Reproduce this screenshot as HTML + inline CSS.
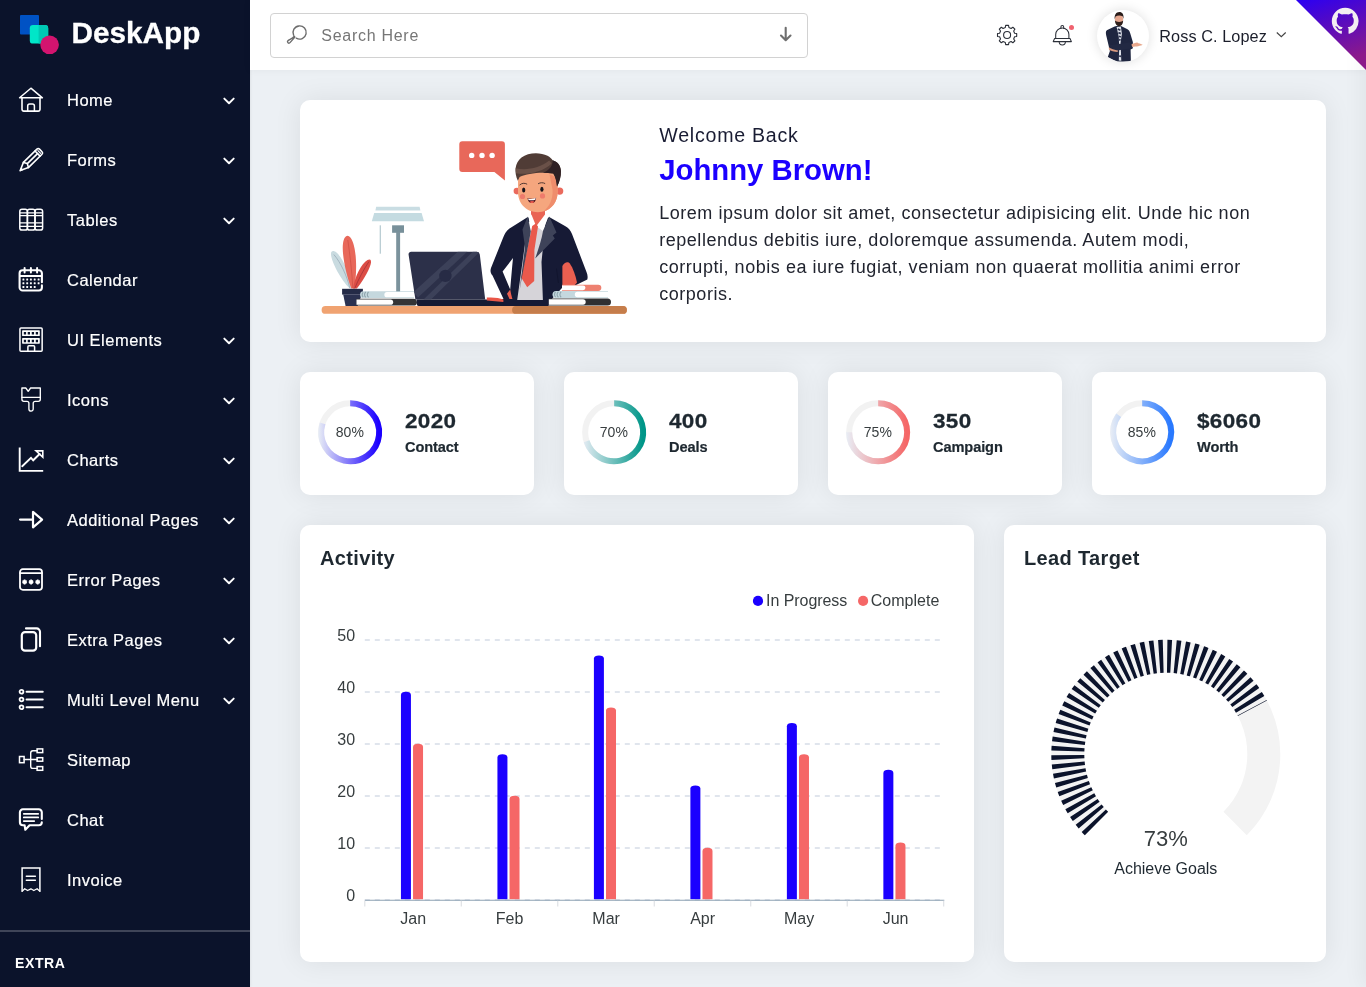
<!DOCTYPE html>
<html lang="en">
<head>
<meta charset="utf-8">
<title>DeskApp - Dashboard</title>
<style>
*{box-sizing:border-box;margin:0;padding:0}
html,body{width:1366px;height:987px;overflow:hidden}
body{background:#ecf0f4;font-family:"Liberation Sans",sans-serif;position:relative}
.t{position:absolute;white-space:nowrap}
.abs{position:absolute}
.sidebar{position:absolute;left:0;top:0;width:250px;height:987px;background:#0b132b;box-shadow:0 0 3px rgba(0,0,0,.10)}
.header{position:absolute;left:250px;top:0;width:1116px;height:70px;background:#fff;box-shadow:0 0 8px rgba(0,0,0,.05)}
.card{position:absolute;background:#fff;border-radius:10px;box-shadow:0 0 28px rgba(0,0,0,.08)}
svg{position:absolute;overflow:visible}

.rshade{position:absolute;left:1368px;top:0;width:20px;height:987px;box-shadow:0 0 26px rgba(0,0,0,.085)}
.sx{transform-origin:0 50%}

</style>
</head>
<body>
<div class="sidebar"></div>
<svg style="left:0;top:0" width="70" height="70" viewBox="0 0 70 70">
<rect x="20" y="15" width="19" height="19.5" rx="1" fill="#0052c4"/>
<rect x="29.8" y="25" width="18.4" height="18.6" rx="3.2" fill="#00e6c8"/>
<path d="M38.6 25h6.4a3.2 3.2 0 0 1 3.2 3.2v12.2a3.2 3.2 0 0 1 -3.2 3.2h-6.4z" fill="#00c9b4"/>
<circle cx="49.6" cy="44.8" r="9.3" fill="#d3146f"/>
</svg>
<div class="t" style="left:71.6px;top:18.11px;font-size:29.7px;line-height:29.7px;font-weight:700;color:#fff;letter-spacing:0px;-webkit-text-stroke:0.3px #fff;">DeskApp</div>
<div class="t" style="left:67px;top:92.11px;font-size:16.5px;line-height:16.5px;font-weight:400;color:#fff;letter-spacing:0.5px;-webkit-text-stroke:0.2px #fff;">Home</div>
<svg style="left:19px;top:87px" width="24" height="26" viewBox="0 0 24 26" fill="none" stroke="#fff" stroke-width="1.7" stroke-linecap="round" stroke-linejoin="round"><path d="M0.6 10.8L11.9 1.2L23.4 10.8Z" stroke-width="1.5"/><path d="M3 10.8V22.3a1.8 1.8 0 0 0 1.8 1.8h14.4a1.8 1.8 0 0 0 1.8-1.8V10.8" stroke-width="1.6"/><path d="M8.7 24.1v-5.2a2 2 0 0 1 2-2h2.7a2 2 0 0 1 2 2v5.2" stroke-width="1.5"/></svg>
<svg style="left:223px;top:97.1px" width="12" height="8" viewBox="0 0 12 8" fill="none" stroke="#fff" stroke-width="1.9" stroke-linecap="round" stroke-linejoin="round"><path d="M1.3 1.6L6 6.2L10.7 1.6"/></svg>
<div class="t" style="left:67px;top:152.11px;font-size:16.5px;line-height:16.5px;font-weight:400;color:#fff;letter-spacing:0.5px;-webkit-text-stroke:0.2px #fff;">Forms</div>
<svg style="left:19px;top:147px" width="24" height="26" viewBox="0 0 24 26" fill="none" stroke="#fff" stroke-width="1.7" stroke-linecap="round" stroke-linejoin="round"><g transform="translate(1.2 23.6) rotate(-44.5)" stroke-width="1.6"><path d="M0 0L8 -3.6H27a1.8 1.8 0 0 1 1.8 1.8V1.8a1.8 1.8 0 0 1 -1.8 1.8H8Z"/><path d="M8 -3.6L10 0L8 3.6"/><path d="M10 0H24.3"/><path d="M24.3 -3.6V3.6"/><path d="M26.6 -1.8V1.8" stroke-width="1.2"/><path d="M0 0L2.6 -1.2V1.2Z" fill="#fff" stroke-width="0.6"/></g></svg>
<svg style="left:223px;top:157.1px" width="12" height="8" viewBox="0 0 12 8" fill="none" stroke="#fff" stroke-width="1.9" stroke-linecap="round" stroke-linejoin="round"><path d="M1.3 1.6L6 6.2L10.7 1.6"/></svg>
<div class="t" style="left:67px;top:212.11px;font-size:16.5px;line-height:16.5px;font-weight:400;color:#fff;letter-spacing:0.5px;-webkit-text-stroke:0.2px #fff;">Tables</div>
<svg style="left:19px;top:207px" width="24" height="26" viewBox="0 0 24 26" fill="none" stroke="#fff" stroke-width="1.7" stroke-linecap="round" stroke-linejoin="round"><g stroke-width="1.5"><rect x="0.8" y="2.2" width="7.6" height="20.9" rx="2.2"/><rect x="8.4" y="2.2" width="7.6" height="20.9" rx="2.2"/><rect x="16" y="2.2" width="7.6" height="20.9" rx="2.2"/><path d="M0.8 5.9H23.6M0.8 8.7H23.6M0.8 15.8H23.6M0.8 19.4H23.6" stroke-width="1.3" stroke-linecap="butt"/></g></svg>
<svg style="left:223px;top:217.1px" width="12" height="8" viewBox="0 0 12 8" fill="none" stroke="#fff" stroke-width="1.9" stroke-linecap="round" stroke-linejoin="round"><path d="M1.3 1.6L6 6.2L10.7 1.6"/></svg>
<div class="t" style="left:67px;top:272.11px;font-size:16.5px;line-height:16.5px;font-weight:400;color:#fff;letter-spacing:0.5px;-webkit-text-stroke:0.2px #fff;">Calendar</div>
<svg style="left:19px;top:267px" width="24" height="26" viewBox="0 0 24 26" fill="none" stroke="#fff" stroke-width="1.7" stroke-linecap="round" stroke-linejoin="round"><path d="M22.9 15.2V6.3a3 3 0 0 0 -3-3H3.6a3 3 0 0 0 -3 3V20.5a3 3 0 0 0 3 3H19.9a3 3 0 0 0 3-3V18.4" stroke-width="2.1"/><path d="M0.6 9H22.9" stroke-width="2" stroke-linecap="butt"/><path d="M5.6 0.9V5.6M11.9 0.9V5.6M18.1 0.9V5.6" stroke-width="2"/><rect x="3.45" y="11.55" width="1.9" height="1.9" rx="0.5" fill="#fff" stroke="none"/><rect x="7.25" y="11.55" width="1.9" height="1.9" rx="0.5" fill="#fff" stroke="none"/><rect x="10.95" y="11.55" width="1.9" height="1.9" rx="0.5" fill="#fff" stroke="none"/><rect x="14.75" y="11.55" width="1.9" height="1.9" rx="0.5" fill="#fff" stroke="none"/><rect x="18.65" y="11.55" width="1.9" height="1.9" rx="0.5" fill="#fff" stroke="none"/><rect x="3.45" y="15.35" width="1.9" height="1.9" rx="0.5" fill="#fff" stroke="none"/><rect x="7.25" y="15.35" width="1.9" height="1.9" rx="0.5" fill="#fff" stroke="none"/><rect x="10.95" y="15.35" width="1.9" height="1.9" rx="0.5" fill="#fff" stroke="none"/><rect x="14.75" y="15.35" width="1.9" height="1.9" rx="0.5" fill="#fff" stroke="none"/><rect x="18.65" y="15.35" width="1.9" height="1.9" rx="0.5" fill="#fff" stroke="none"/><rect x="3.45" y="19.05" width="1.9" height="1.9" rx="0.5" fill="#fff" stroke="none"/><rect x="7.25" y="19.05" width="1.9" height="1.9" rx="0.5" fill="#fff" stroke="none"/><rect x="10.95" y="19.05" width="1.9" height="1.9" rx="0.5" fill="#fff" stroke="none"/><rect x="14.75" y="19.05" width="1.9" height="1.9" rx="0.5" fill="#fff" stroke="none"/></svg>
<div class="t" style="left:67px;top:332.11px;font-size:16.5px;line-height:16.5px;font-weight:400;color:#fff;letter-spacing:0.5px;-webkit-text-stroke:0.2px #fff;">UI Elements</div>
<svg style="left:19px;top:327px" width="24" height="26" viewBox="0 0 24 26" fill="none" stroke="#fff" stroke-width="1.7" stroke-linecap="round" stroke-linejoin="round"><rect x="0.95" y="0.95" width="22.2" height="23.2" rx="1" stroke-width="1.5"/><path fill="#fff" stroke="none" fill-rule="evenodd" d="M3.7 3.3h16.5a.6 .6 0 0 1 .6 .6v4.5a.6 .6 0 0 1 -.6 .6H3.7a.6 .6 0 0 1 -.6-.6v-4.5a.6 .6 0 0 1 .6-.6zM4.80 4.95h2.3v2.5h-2.3zM8.70 4.95h2.3v2.5h-2.3zM12.75 4.95h2.3v2.5h-2.3zM16.75 4.95h2.3v2.5h-2.3z"/><path fill="#fff" stroke="none" fill-rule="evenodd" d="M3.7 11.0h16.5a.6 .6 0 0 1 .6 .6v4.5a.6 .6 0 0 1 -.6 .6H3.7a.6 .6 0 0 1 -.6-.6v-4.5a.6 .6 0 0 1 .6-.6zM4.80 12.65h2.3v2.5h-2.3zM8.70 12.65h2.3v2.5h-2.3zM12.75 12.65h2.3v2.5h-2.3zM16.75 12.65h2.3v2.5h-2.3z"/><path d="M8.9 24v-4.2a1 1 0 0 1 1-1h4.7a1 1 0 0 1 1 1V24" stroke-width="1.5"/></svg>
<svg style="left:223px;top:337.1px" width="12" height="8" viewBox="0 0 12 8" fill="none" stroke="#fff" stroke-width="1.9" stroke-linecap="round" stroke-linejoin="round"><path d="M1.3 1.6L6 6.2L10.7 1.6"/></svg>
<div class="t" style="left:67px;top:392.11px;font-size:16.5px;line-height:16.5px;font-weight:400;color:#fff;letter-spacing:0.5px;-webkit-text-stroke:0.2px #fff;">Icons</div>
<svg style="left:19px;top:387px" width="24" height="26" viewBox="0 0 24 26" fill="none" stroke="#fff" stroke-width="1.7" stroke-linecap="round" stroke-linejoin="round"><path d="M2.9 1H6.8L9.2 4.3L11.6 1H21.3V12.3a2 2 0 0 1 -2 2H16.2a2 2 0 0 0 -2 2V21.9a2.15 2.15 0 0 1 -4.3 0V16.3a2 2 0 0 0 -2-2H4.9a2 2 0 0 1 -2-2Z" stroke-width="1.35"/><path d="M2.9 10.4H21.3" stroke-width="1.25"/></svg>
<svg style="left:223px;top:397.1px" width="12" height="8" viewBox="0 0 12 8" fill="none" stroke="#fff" stroke-width="1.9" stroke-linecap="round" stroke-linejoin="round"><path d="M1.3 1.6L6 6.2L10.7 1.6"/></svg>
<div class="t" style="left:67px;top:452.11px;font-size:16.5px;line-height:16.5px;font-weight:400;color:#fff;letter-spacing:0.5px;-webkit-text-stroke:0.2px #fff;">Charts</div>
<svg style="left:19px;top:447px" width="24" height="26" viewBox="0 0 24 26" fill="none" stroke="#fff" stroke-width="1.7" stroke-linecap="round" stroke-linejoin="round"><path d="M0.7 0.4V23.9H24.2" stroke-width="1.9" stroke-linecap="butt" stroke-linejoin="miter"/><path d="M3.2 19.2L12 10.8L14.2 13.3L20.6 7" stroke-width="1.9" stroke-linejoin="miter"/><path d="M17 3.9H23.8V10.2Z" stroke-width="1.6" stroke-linejoin="miter"/></svg>
<svg style="left:223px;top:457.1px" width="12" height="8" viewBox="0 0 12 8" fill="none" stroke="#fff" stroke-width="1.9" stroke-linecap="round" stroke-linejoin="round"><path d="M1.3 1.6L6 6.2L10.7 1.6"/></svg>
<div class="t" style="left:67px;top:512.11px;font-size:16.5px;line-height:16.5px;font-weight:400;color:#fff;letter-spacing:0.5px;-webkit-text-stroke:0.2px #fff;">Additional Pages</div>
<svg style="left:19px;top:507px" width="24" height="26" viewBox="0 0 24 26" fill="none" stroke="#fff" stroke-width="1.7" stroke-linecap="round" stroke-linejoin="round"><path d="M1.1 12.6H13.9" stroke-width="2.3"/><path d="M14 4.9V20.3L23.1 12.6Z" stroke-width="2.2"/></svg>
<svg style="left:223px;top:517.1px" width="12" height="8" viewBox="0 0 12 8" fill="none" stroke="#fff" stroke-width="1.9" stroke-linecap="round" stroke-linejoin="round"><path d="M1.3 1.6L6 6.2L10.7 1.6"/></svg>
<div class="t" style="left:67px;top:572.11px;font-size:16.5px;line-height:16.5px;font-weight:400;color:#fff;letter-spacing:0.5px;-webkit-text-stroke:0.2px #fff;">Error Pages</div>
<svg style="left:19px;top:567px" width="24" height="26" viewBox="0 0 24 26" fill="none" stroke="#fff" stroke-width="1.7" stroke-linecap="round" stroke-linejoin="round"><rect x="1" y="2.2" width="22" height="20.6" rx="2.8" stroke-width="1.8"/><path d="M1 6.1H23" stroke-width="1.7"/><path d="M5.6 12.4V17.4M3.50 13.7L7.70 16.1M7.70 13.7L3.50 16.1" stroke-width="1.7" stroke-linecap="butt"/><path d="M12.1 12.4V17.4M10.00 13.7L14.20 16.1M14.20 13.7L10.00 16.1" stroke-width="1.7" stroke-linecap="butt"/><path d="M18.7 12.4V17.4M16.60 13.7L20.80 16.1M20.80 13.7L16.60 16.1" stroke-width="1.7" stroke-linecap="butt"/></svg>
<svg style="left:223px;top:577.1px" width="12" height="8" viewBox="0 0 12 8" fill="none" stroke="#fff" stroke-width="1.9" stroke-linecap="round" stroke-linejoin="round"><path d="M1.3 1.6L6 6.2L10.7 1.6"/></svg>
<div class="t" style="left:67px;top:632.11px;font-size:16.5px;line-height:16.5px;font-weight:400;color:#fff;letter-spacing:0.5px;-webkit-text-stroke:0.2px #fff;">Extra Pages</div>
<svg style="left:19px;top:627px" width="24" height="26" viewBox="0 0 24 26" fill="none" stroke="#fff" stroke-width="1.7" stroke-linecap="round" stroke-linejoin="round"><rect x="2.8" y="5.1" width="14.4" height="18.6" rx="3.2" stroke-width="2.2"/><path d="M7 1.4H17.6a3.4 3.4 0 0 1 3.4 3.4V19.2" stroke-width="2.1"/></svg>
<svg style="left:223px;top:637.1px" width="12" height="8" viewBox="0 0 12 8" fill="none" stroke="#fff" stroke-width="1.9" stroke-linecap="round" stroke-linejoin="round"><path d="M1.3 1.6L6 6.2L10.7 1.6"/></svg>
<div class="t" style="left:67px;top:692.11px;font-size:16.5px;line-height:16.5px;font-weight:400;color:#fff;letter-spacing:0.5px;-webkit-text-stroke:0.2px #fff;">Multi Level Menu</div>
<svg style="left:19px;top:687px" width="24" height="26" viewBox="0 0 24 26" fill="none" stroke="#fff" stroke-width="1.7" stroke-linecap="round" stroke-linejoin="round"><circle cx="2.5" cy="4.8" r="1.9" stroke-width="1.8"/><path d="M7.6 4.8H23.7" stroke-width="2.1"/><circle cx="2.5" cy="12.5" r="1.9" stroke-width="1.8"/><path d="M7.6 12.5H23.7" stroke-width="2.1"/><circle cx="2.5" cy="20.2" r="1.9" stroke-width="1.8"/><path d="M7.6 20.2H23.7" stroke-width="2.1"/></svg>
<svg style="left:223px;top:697.1px" width="12" height="8" viewBox="0 0 12 8" fill="none" stroke="#fff" stroke-width="1.9" stroke-linecap="round" stroke-linejoin="round"><path d="M1.3 1.6L6 6.2L10.7 1.6"/></svg>
<div class="t" style="left:67px;top:752.11px;font-size:16.5px;line-height:16.5px;font-weight:400;color:#fff;letter-spacing:0.5px;-webkit-text-stroke:0.2px #fff;">Sitemap</div>
<svg style="left:19px;top:747px" width="24" height="26" viewBox="0 0 24 26" fill="none" stroke="#fff" stroke-width="1.7" stroke-linecap="round" stroke-linejoin="round"><g stroke-width="1.5" stroke-linejoin="miter"><rect x="0.5" y="9.5" width="4.6" height="6.2"/><rect x="18.1" y="1.9" width="5.6" height="3.7"/><rect x="18.1" y="10.7" width="5.6" height="3.5"/><rect x="18.1" y="19.6" width="5.6" height="3.7"/><path d="M5.1 12.5H18.1M18.1 3.7H13.9a2.2 2.2 0 0 0 -2.2 2.2V19.2a2.2 2.2 0 0 0 2.2 2.2H18.1" stroke-width="1.4"/></g></svg>
<div class="t" style="left:67px;top:812.11px;font-size:16.5px;line-height:16.5px;font-weight:400;color:#fff;letter-spacing:0.5px;-webkit-text-stroke:0.2px #fff;">Chat</div>
<svg style="left:19px;top:807px" width="24" height="26" viewBox="0 0 24 26" fill="none" stroke="#fff" stroke-width="1.7" stroke-linecap="round" stroke-linejoin="round"><path d="M22.8 11.9V5.3a3 3 0 0 0 -3-3H3.9a3 3 0 0 0 -3 3V15.2a3 3 0 0 0 3 3H5.6L6.3 22.8L10.6 18.2H19.8a3 3 0 0 0 3-3V15.4" stroke-width="2.1"/><path d="M4.8 6.8H19.2M4.8 10.4H19.2M4.8 14.1H15.2" stroke-width="1.8"/></svg>
<div class="t" style="left:67px;top:872.11px;font-size:16.5px;line-height:16.5px;font-weight:400;color:#fff;letter-spacing:0.5px;-webkit-text-stroke:0.2px #fff;">Invoice</div>
<svg style="left:19px;top:867px" width="24" height="26" viewBox="0 0 24 26" fill="none" stroke="#fff" stroke-width="1.7" stroke-linecap="round" stroke-linejoin="round"><path d="M3.1 24.4V1.1H20.9V24.4" stroke-width="1.5" stroke-linejoin="miter" stroke-linecap="butt"/><path d="M3.1 24.4L5.7 21.7L8.6 23.5L11.9 21.8L14.8 23.5L18.1 21.7L20.9 24.4" stroke-width="1.3"/><path d="M7.3 9.2H16.4M7.3 13.3H16.4" stroke-width="1.4"/></svg>
<div class="abs" style="left:0;top:930px;width:250px;height:2px;background:rgba(255,255,255,.215)"></div>
<div class="t" style="left:15px;top:956.10px;font-size:14px;line-height:14px;font-weight:700;color:#fff;letter-spacing:0.6px;">EXTRA</div>
<div class="header"></div>
<div class="abs" style="left:270px;top:13px;width:538px;height:45px;border:1px solid #d2d2d2;border-radius:4px;background:#fff"></div>
<svg style="left:284px;top:22px" width="26" height="26" viewBox="0 0 26 26" fill="none" stroke="#6b6b6b" stroke-width="1.4" stroke-linecap="round">
<path d="M12.3 16.2A6.6 6.6 0 1 0 9.6 13.2"/><path d="M10.9 15.1L6 20.6a1.4 1.4 0 0 1 -2.1 -1.9C5.2 17.4 8.6 16.6 10.3 14.2"/></svg>
<div class="t" style="left:321.3px;top:28.11px;font-size:16px;line-height:16px;font-weight:400;color:#767676;letter-spacing:0.72px;">Search Here</div>
<svg style="left:776px;top:24px" width="20" height="20" viewBox="0 0 20 20" fill="none" stroke="#6f6f6f" stroke-width="2.1" stroke-linecap="round" stroke-linejoin="round">
<path d="M9.7 3.7V16M5 11.6L9.7 16.2L14.5 11.6"/></svg>
<svg style="left:995px;top:23px" width="24" height="24" viewBox="0 0 24 24" fill="none" stroke="#2b2f38" stroke-width="1.1" stroke-linejoin="round">
<path d="M10.30 4.51 L10.66 2.41 L13.54 2.41 L13.90 4.51 L16.12 5.43 L17.86 4.20 L19.90 6.24 L18.67 7.98 L19.59 10.20 L21.69 10.56 L21.69 13.44 L19.59 13.80 L18.67 16.02 L19.90 17.76 L17.86 19.80 L16.12 18.57 L13.90 19.49 L13.54 21.59 L10.66 21.59 L10.30 19.49 L8.08 18.57 L6.34 19.80 L4.30 17.76 L5.53 16.02 L4.61 13.80 L2.51 13.44 L2.51 10.56 L4.61 10.20 L5.53 7.98 L4.30 6.24 L6.34 4.20 L8.08 5.43Z" /><circle cx="12.1" cy="12" r="3.5"/></svg>
<svg style="left:1050px;top:22px" width="26" height="26" viewBox="0 0 26 26" fill="none" stroke="#2b2f38" stroke-width="1.05" stroke-linejoin="round" stroke-linecap="round">
<path d="M5.7 16.5V12.6a6.6 6.6 0 0 1 13.2 0V16.5"/>
<path d="M10.9 6.3V4.9a1.4 1.4 0 0 1 2.8 0V6.3"/>
<path d="M4.6 16.5H20L21.4 19.6H3.2Z"/>
<path d="M9.2 19.8a3.1 3.1 0 0 0 6.2 0"/>
</svg>
<div class="abs" style="left:1069px;top:24.7px;width:5.2px;height:5.2px;border-radius:50%;background:#f0626f"></div>
<div class="abs" style="left:1096.5px;top:10px;width:52px;height:52px;border-radius:50%;background:#fff;box-shadow:0 0 12px rgba(0,0,0,.13)"></div>
<svg style="left:1096.5px;top:10px" width="52" height="52" viewBox="0 0 52 52">
<defs><clipPath id="avc"><circle cx="26" cy="26" r="26"/></clipPath></defs>
<g clip-path="url(#avc)">
<path d="M17.6 16.4L22.5 15.2L30.5 19.3C32.5 20.2 33 22.5 33.6 24.6L35.9 32.2L35.6 38.4L33.6 39.4L33.9 51.2L20 51.8L10.8 47L12.9 41L9.6 27C8.8 23.5 8.3 21.2 10.3 20Z" fill="#1f2640"/>
<path d="M19.6 16.9L23.9 16.6L24.9 24L23.6 32.5L24.3 50.8L21.8 50.6L22.2 38L21.8 27Z" fill="#dfe3ea"/>
<path d="M20.8 19l2.6 1.2M21.4 22.6l2.4 1M21.9 26.2l2 .8M22 29.6l1.6 .5M22.2 46l1.8 .4" stroke="#2e3450" stroke-width="1.7" fill="none"/>
<path d="M12.2 35.2L33.9 32.2L36 34.8L35.3 38.3L14.9 41.2Z" fill="#222943"/>
<path d="M34.4 34.6C36 33.6 38.5 32.8 40.3 32.6L41.3 33.2C43 33.6 45 34.2 45.7 34.8C44 36 39 36.6 35.2 37Z" fill="#e7a78c"/>
<path d="M11.7 37.2C13.5 38.6 18 39.8 21 40.4L20.6 41.9C17.5 41.7 13.5 40.8 12 39.7Z" fill="#d99a80"/>
<ellipse cx="22" cy="9.2" rx="4.1" ry="5.4" fill="#e6a78f"/>
<path d="M17.7 9.2C17.2 4.6 19.3 2.1 22.2 2C25.4 2 27 4.6 26.5 9L25.8 6.4C24 5.2 20.4 5.2 18.6 6.4Z" fill="#2a1c1a"/>
<path d="M17.9 10.6C18.1 14.4 19.9 16.2 22.1 16.2C24.4 16.2 26 14.3 26.2 10.6C25 12.4 19.3 12.4 17.9 10.6Z" fill="#2f201c"/>
</g></svg>
<div class="t" style="left:1159.3px;top:28.12px;font-size:16.25px;line-height:16.25px;font-weight:400;color:#1b1e2b;letter-spacing:0.08px;">Ross C. Lopez</div>
<svg style="left:1275px;top:30px" width="13" height="9" viewBox="0 0 13 9" fill="none" stroke="#444" stroke-width="1.15" stroke-linecap="butt" stroke-linejoin="miter"><path d="M1.8 2.5L6.3 6.7L10.7 2.5"/></svg>
<div class="rshade"></div>
<svg style="left:1296px;top:0" width="70" height="70" viewBox="0 0 70 70">
<defs><linearGradient id="ghg" x1="0" y1="0" x2="0.35" y2="1"><stop offset="0" stop-color="#2a00f4"/><stop offset="0.35" stop-color="#4c08cc"/><stop offset="1" stop-color="#8c1a8a"/></linearGradient></defs>
<path d="M0 0H70V70Z" fill="url(#ghg)"/>
<g transform="translate(35.8 7.7) scale(1.675)"><path fill="#f3eef2" d="M8 0C3.58 0 0 3.58 0 8c0 3.54 2.29 6.53 5.47 7.59.4.07.55-.17.55-.38 0-.19-.01-.82-.01-1.49-2.01.37-2.53-.49-2.69-.94-.09-.23-.48-.94-.82-1.13-.28-.15-.68-.52-.01-.53.63-.01 1.08.58 1.23.82.72 1.21 1.87.87 2.33.66.07-.52.28-.87.51-1.07-1.78-.2-3.64-.89-3.64-3.95 0-.87.31-1.59.82-2.15-.08-.2-.36-1.02.08-2.12 0 0 .67-.21 2.2.82.64-.18 1.32-.27 2-.27.68 0 1.36.09 2 .27 1.53-1.04 2.2-.82 2.2-.82.44 1.1.16 1.92.08 2.12.51.56.82 1.27.82 2.15 0 3.07-1.87 3.75-3.65 3.95.29.25.54.73.54 1.48 0 1.07-.01 1.93-.01 2.2 0 .21.15.46.55.38A8.013 8.013 0 0016 8c0-4.42-3.58-8-8-8z"/></g>
</svg>
<div class="card" style="left:300px;top:100px;width:1026px;height:242px"></div>
<svg style="left:300px;top:100px" width="340" height="242" viewBox="300 100 340 242">
<!-- desk -->
<path d="M325.5 306H623a3.9 3.9 0 0 1 0 7.8H325.5a3.9 3.9 0 0 1 0 -7.8Z" fill="#f0a371"/>
<path d="M516 306H623a3.9 3.9 0 0 1 0 7.8H516a3.9 3.9 0 0 1 0 -7.8Z" fill="#c57d4b"/>
<!-- lamp -->
<path d="M376.2 206.7H419.6L420.4 210.6H375.4Z" fill="#c9dde3"/>
<path d="M374.2 213H421.6L424 221.3H371.8Z" fill="#c4dbe1"/>
<rect x="379.7" y="225.3" width="1.2" height="28.4" fill="#b4c9d0"/>
<rect x="392.1" y="225.3" width="11.9" height="7.5" fill="#78909a"/>
<rect x="396.2" y="232" width="3.9" height="60" fill="#7b929c"/>
<!-- plant -->
<path d="M349.8 288.5C341 280 331.5 262 331 254.5C330.7 250.6 333.5 250.2 336.5 252.6C343.5 258.5 350.5 276 351.6 288.5Z" fill="#c9dbe0"/>
<path d="M333.8 254.5C340.5 262 347 276 349.8 288" stroke="#7d8fa0" stroke-width="0.5" fill="none"/>
<path d="M351.3 288.5C346.5 276 341.5 254 343 243.5C343.8 237.5 346.5 234.6 349.3 236.4C355 240.5 358.3 262 354.5 288.5Z" fill="#e8685a"/>
<path d="M347.8 240C350 255 352 272 352.8 288" stroke="#c9483f" stroke-width="0.6" fill="none"/>
<path d="M353.2 288.5C354.5 277 361.5 263.5 367.5 260C370.5 258.3 371.8 260.5 370.6 264.4C368.3 272 361.5 283 356.8 288.5Z" fill="#dc4d45"/>
<path d="M369 261.5C364 269 358 280 354.8 288.3" stroke="#8e2a33" stroke-width="0.6" fill="none"/>
<path d="M342.1 288.8H362.9V294.6H342.1Z" fill="#242b47"/>
<path d="M343.2 294.6H361.8L357.6 306H345.6Z" fill="#2a3150"/>
<!-- books left -->
<path d="M363.5 291.2H414V298.1H363.5a3.45 3.45 0 0 1 0 -6.9Z" fill="#c5d8de"/>
<path d="M387 292H414V297.3H387a2.65 2.65 0 0 1 0 -5.3Z" fill="#fff"/>
<path d="M363.2 292.3a3.2 3.2 0 0 0 0 4.7M365.8 292a3.4 3.4 0 0 0 0 5.3M368.6 292a3.4 3.4 0 0 0 0 5.3" stroke="#8fa5ad" stroke-width="1.1" fill="none"/>
<path d="M356.5 298.7H413.5a3.45 3.45 0 0 1 0 6.9H356.5Z" fill="#343436"/>
<path d="M356.5 299.5H390.5a2.65 2.65 0 0 1 0 5.3H356.5Z" fill="#fff"/>
<!-- man: arms/jacket -->
<path d="M527 217.5L509.5 228.5C506 231 504.5 234 503 238L491 268C490 271 490.6 273 492.5 275.5L503.5 299H498V306H548.5L551 300L566.5 283L571 287.5L587.3 279.5C588 277 587.5 274.5 586.5 272L572 234C570.5 230.5 568.5 227.5 565 226L550 217.5Z" fill="#161a35"/>
<!-- gap between left arm and body -->
<path d="M513 258L502.6 271.5L510.2 289.5C511 280 512 268 513 258Z" fill="#fff"/>
<path d="M510.2 289.5L507 293.8L509.5 299L512.4 299C511.5 296 510.7 292.5 510.2 289.5Z" fill="#ea5f50"/>
<!-- shirt -->
<path d="M528 222L545.5 222L541.5 262L542.9 299.9H517.2L522.5 262Z" fill="#d6d4d9"/>
<!-- neck -->
<path d="M531 208H545V219L536 228L531 219Z" fill="#e96454"/>
<!-- collar -->
<path d="M528.4 216.2L531.4 214.6L536.2 226.2L530.6 231.2Z" fill="#fff"/>
<path d="M545 214.6L548.6 216.2L543 231L536.2 226.2Z" fill="#fff"/>
<!-- tie -->
<path d="M532.2 226L535.8 223.4L538 226.6L534.4 250L534.2 281L527.2 287.2L521.2 277.5Z" fill="#e9594c"/>
<!-- lapels -->
<path d="M527.6 216.6L522.5 229.5L525 247L519.5 291C523 270 528.5 245 530.8 231.2Z" fill="#3e4359"/>
<path d="M549.4 216.6L556.5 232.5L552.8 235.5L554.8 238.5L535.2 258.5C538.5 249 541.5 240 543 231Z" fill="#3e4359"/>
<path d="M556.5 268.5L558.4 283" stroke="#0d1128" stroke-width="0.6" fill="none"/>
<!-- head -->
<circle cx="516.9" cy="191.1" r="3.3" fill="#ea6a5d"/>
<circle cx="559.6" cy="191.1" r="3.7" fill="#ea6a5d"/>
<path d="M518 180C518 172 526 168 538 168C550 168 557.6 172 557.6 180V192C557.6 204 549 212.2 537.8 212.2C526.6 212.2 518 204 518 192Z" fill="#f5a67e"/>
<path d="M549.5 174.5C554.5 176 557.6 178.5 557.6 182V192C557.6 202 551.5 209.5 543.5 211.6C549.5 206.5 553 199 552.6 190Z" fill="#ef8d6c"/>
<!-- hair -->
<path d="M517.8 180.8C514 172 514.6 163 521.5 157.5C528 152.3 540 151.9 547.5 155.7C550 157 551.6 158.6 552.6 160.2C557.5 161.6 560.6 165.5 560.9 171C561.1 176.5 559.6 182 557 186.4C556.4 181.5 555.6 177 553.3 173.6C541 171.5 527.5 173.5 519.6 177Z" fill="#503c36"/>
<path d="M515.6 168.2C525 170.6 540 168.6 549.2 160.6L551.6 163.4C543 172.2 526 175.2 516 173.2Z" fill="#6a5148"/>
<path d="M552.6 160.2C557.5 161.6 560.6 165.5 560.9 171C561.1 176.5 559.6 182 557 186.4C556.4 181.5 555.6 177 553.3 173.6C550 173 546.5 172.8 543 172.8C549.5 170 553 165.5 552.6 160.2Z" fill="#2e2024"/>
<!-- face details -->
<ellipse cx="523.7" cy="190" rx="1.6" ry="2.5" fill="#15131a"/>
<ellipse cx="541.9" cy="189.2" rx="1.6" ry="2.5" fill="#15131a"/>
<path d="M519.9 184.8C521.8 183 524.6 182.8 526.8 184" stroke="#4a332d" stroke-width="0.95" fill="none" stroke-linecap="round"/>
<path d="M538.4 183.6C540.4 182.4 543 182.4 544.8 183.4" stroke="#4a332d" stroke-width="0.95" fill="none" stroke-linecap="round"/>
<circle cx="522.5" cy="196.5" r="2.6" fill="#ee7b6c"/>
<circle cx="542.5" cy="195.9" r="2.6" fill="#ee7b6c"/>
<path d="M527.5 198.1C530 199 533.8 198.8 536.1 197.7C536 201 534.2 203.1 531.9 203.1C529.6 203.1 527.7 201.2 527.5 198.1Z" fill="#4a1622"/>
<path d="M528.1 198.4C530.4 199.2 533.6 199 535.6 198.1L535.3 199.8C533.2 200.5 530.4 200.5 528.5 200Z" fill="#fff"/>
<path d="M529.6 201.7C531 200.9 533 200.9 534.4 201.6C533.8 202.6 532.9 203.1 531.9 203.1C530.9 203.1 530.1 202.6 529.6 201.7Z" fill="#e9584b"/>
<!-- chair -->
<path d="M562.4 266C564 262.5 568 261 569.8 263.5C573 268 575.5 275 577 282.5L573.5 286.3H562.4Z" fill="#ea5f50"/>
<!-- books right -->
<path d="M562 284.7H598.2a3.15 3.15 0 0 1 0 6.3H562Z" fill="#ee8171"/>
<path d="M562 285.4H583a2.45 2.45 0 0 1 0 4.9H562Z" fill="#fff"/>
<path d="M556 291H608V298H556a3.5 3.5 0 0 1 0 -7Z" fill="#c5d8de"/>
<path d="M577.5 291.8H608V297.2H577.5a2.7 2.7 0 0 1 0 -5.4Z" fill="#fff"/>
<path d="M555.6 292a3.4 3.4 0 0 0 0 5M558.4 291.8a3.4 3.4 0 0 0 0 5.4M561.2 291.8a3.4 3.4 0 0 0 0 5.4" stroke="#8fa5ad" stroke-width="1.1" fill="none"/>
<path d="M548.8 298.5H607.5a3.5 3.5 0 0 1 0 7H548.8Z" fill="#303032"/>
<path d="M548.8 299.3H583a2.7 2.7 0 0 1 0 5.4H548.8Z" fill="#fff"/>
<!-- laptop -->
<path d="M411.5 251.8H476.8a3 3 0 0 1 3 2.6L485.2 299.6H415.4L408.6 254.8a2.6 2.6 0 0 1 2.9 -3Z" fill="#2c3049"/>
<clipPath id="lpc"><path d="M411.5 251.8H476.8a3 3 0 0 1 3 2.6L485.2 299.6H415.4L408.6 254.8a2.6 2.6 0 0 1 2.9 -3Z"/></clipPath>
<g clip-path="url(#lpc)"><path d="M458 251.5H467.5L418 297.5L413.5 292Z" fill="#3c4159"/><path d="M473 251.5H480L431 299.6H423.5Z" fill="#3c4159"/></g>
<circle cx="445.4" cy="275.9" r="6.2" fill="#272b45"/>
<path d="M416.8 299.4H486L503.4 300.4V305.9H419a2 2 0 0 1 -2.2 -2Z" fill="#171b33"/>
<path d="M486.8 297.6C492 297 499.5 297.6 503.4 299.6V301.9L486.8 300.6Z" fill="#ea5648"/>
<!-- speech bubble -->
<path d="M462.3 141.3H501.9a3 3 0 0 1 3 3V180.6L494.4 172.1H462.3a3 3 0 0 1 -3 -3V144.3a3 3 0 0 1 3 -3Z" fill="#e8685a"/>
<circle cx="471.7" cy="155.4" r="2.7" fill="#fff"/><circle cx="482" cy="155.4" r="2.7" fill="#fff"/><circle cx="492.1" cy="155.4" r="2.7" fill="#fff"/>
</svg>
<div class="t" style="left:659.3px;top:126.11px;font-size:19.6px;line-height:19.6px;font-weight:400;color:#191c33;letter-spacing:0.75px;">Welcome Back</div>
<div class="t" style="left:659.2px;top:155.10px;font-size:29.3px;line-height:29.3px;font-weight:700;color:#1b00ff;letter-spacing:0px;">Johnny Brown!</div>
<div class="t" style="left:659.2px;top:204.10px;font-size:18px;line-height:18px;font-weight:400;color:#21242f;letter-spacing:0.54px;">Lorem ipsum dolor sit amet, consectetur adipisicing elit. Unde hic non</div>
<div class="t" style="left:659.2px;top:231.10px;font-size:18px;line-height:18px;font-weight:400;color:#21242f;letter-spacing:0.54px;">repellendus debitis iure, doloremque assumenda. Autem modi,</div>
<div class="t" style="left:659.2px;top:258.10px;font-size:18px;line-height:18px;font-weight:400;color:#21242f;letter-spacing:0.54px;">corrupti, nobis ea iure fugiat, veniam non quaerat mollitia animi error</div>
<div class="t" style="left:659.2px;top:285.10px;font-size:18px;line-height:18px;font-weight:400;color:#21242f;letter-spacing:0.54px;">corporis.</div>
<div class="card" style="left:300px;top:372px;width:234px;height:123px"></div>
<svg style="left:317.9px;top:400px" width="65" height="65" viewBox="0 0 65 65" fill="none">
<defs><linearGradient id="g1" gradientUnits="userSpaceOnUse" x1="64.3" y1="0" x2="0.3" y2="0"><stop offset="0" stop-color="#1b00ff"/><stop offset="0.06" stop-color="#1b00ff"/><stop offset="1" stop-color="#e8edf5"/></linearGradient></defs>
<circle cx="32.15" cy="32.3" r="29.0" stroke="#f2f2f2" stroke-width="6.0"/>
<path d="M32.15 3.299999999999997A29.0 29.0 0 1 1 4.57 23.34" stroke="url(#g1)" stroke-width="6.0"/>
</svg>
<div class="t" style="left:49.89999999999998px;width:600px;text-align:center;top:425.10px;font-size:14px;line-height:14px;font-weight:400;color:#373d3f;letter-spacing:0.15px;">80%</div>
<div class="t" style="left:405px;top:410.11px;font-size:21px;line-height:21px;font-weight:700;color:#1e2830;letter-spacing:0.35px;transform:scaleX(1.07);transform-origin:0 50%;-webkit-text-stroke:0.3px #1e2830;">2020</div>
<div class="t" style="left:405px;top:440.11px;font-size:14.6px;line-height:14.6px;font-weight:700;color:#1e2830;letter-spacing:-0.1px;-webkit-text-stroke:0.2px #1e2830;">Contact</div>
<div class="card" style="left:564px;top:372px;width:234px;height:123px"></div>
<svg style="left:581.9px;top:400px" width="65" height="65" viewBox="0 0 65 65" fill="none">
<defs><linearGradient id="g2" gradientUnits="userSpaceOnUse" x1="64.3" y1="0" x2="0.3" y2="0"><stop offset="0" stop-color="#009688"/><stop offset="0.06" stop-color="#009688"/><stop offset="1" stop-color="#e8edf5"/></linearGradient></defs>
<circle cx="32.15" cy="32.3" r="29.0" stroke="#f2f2f2" stroke-width="6.0"/>
<path d="M32.15 3.299999999999997A29.0 29.0 0 1 1 4.57 41.26" stroke="url(#g2)" stroke-width="6.0"/>
</svg>
<div class="t" style="left:313.9px;width:600px;text-align:center;top:425.10px;font-size:14px;line-height:14px;font-weight:400;color:#373d3f;letter-spacing:0.15px;">70%</div>
<div class="t" style="left:669px;top:410.11px;font-size:21px;line-height:21px;font-weight:700;color:#1e2830;letter-spacing:0.35px;transform:scaleX(1.07);transform-origin:0 50%;-webkit-text-stroke:0.3px #1e2830;">400</div>
<div class="t" style="left:669px;top:440.11px;font-size:14.6px;line-height:14.6px;font-weight:700;color:#1e2830;letter-spacing:-0.1px;-webkit-text-stroke:0.2px #1e2830;">Deals</div>
<div class="card" style="left:828px;top:372px;width:234px;height:123px"></div>
<svg style="left:845.9px;top:400px" width="65" height="65" viewBox="0 0 65 65" fill="none">
<defs><linearGradient id="g3" gradientUnits="userSpaceOnUse" x1="64.3" y1="0" x2="0.3" y2="0"><stop offset="0" stop-color="#f56767"/><stop offset="0.06" stop-color="#f56767"/><stop offset="1" stop-color="#e8edf5"/></linearGradient></defs>
<circle cx="32.15" cy="32.3" r="29.0" stroke="#f2f2f2" stroke-width="6.0"/>
<path d="M32.15 3.299999999999997A29.0 29.0 0 1 1 3.15 32.30" stroke="url(#g3)" stroke-width="6.0"/>
</svg>
<div class="t" style="left:577.9px;width:600px;text-align:center;top:425.10px;font-size:14px;line-height:14px;font-weight:400;color:#373d3f;letter-spacing:0.15px;">75%</div>
<div class="t" style="left:933px;top:410.11px;font-size:21px;line-height:21px;font-weight:700;color:#1e2830;letter-spacing:0.35px;transform:scaleX(1.07);transform-origin:0 50%;-webkit-text-stroke:0.3px #1e2830;">350</div>
<div class="t" style="left:933px;top:440.11px;font-size:14.6px;line-height:14.6px;font-weight:700;color:#1e2830;letter-spacing:-0.1px;-webkit-text-stroke:0.2px #1e2830;">Campaign</div>
<div class="card" style="left:1092px;top:372px;width:234px;height:123px"></div>
<svg style="left:1109.9px;top:400px" width="65" height="65" viewBox="0 0 65 65" fill="none">
<defs><linearGradient id="g4" gradientUnits="userSpaceOnUse" x1="64.3" y1="0" x2="0.3" y2="0"><stop offset="0" stop-color="#2979ff"/><stop offset="0.06" stop-color="#2979ff"/><stop offset="1" stop-color="#e8edf5"/></linearGradient></defs>
<circle cx="32.15" cy="32.3" r="29.0" stroke="#f2f2f2" stroke-width="6.0"/>
<path d="M32.15 3.299999999999997A29.0 29.0 0 1 1 8.69 15.25" stroke="url(#g4)" stroke-width="6.0"/>
</svg>
<div class="t" style="left:841.9000000000001px;width:600px;text-align:center;top:425.10px;font-size:14px;line-height:14px;font-weight:400;color:#373d3f;letter-spacing:0.15px;">85%</div>
<div class="t" style="left:1197px;top:410.11px;font-size:21px;line-height:21px;font-weight:700;color:#1e2830;letter-spacing:0.35px;transform:scaleX(1.07);transform-origin:0 50%;-webkit-text-stroke:0.3px #1e2830;">$6060</div>
<div class="t" style="left:1197px;top:440.11px;font-size:14.6px;line-height:14.6px;font-weight:700;color:#1e2830;letter-spacing:-0.1px;-webkit-text-stroke:0.2px #1e2830;">Worth</div>
<div class="card" style="left:300px;top:525px;width:674px;height:437px"></div>
<div class="t" style="left:320px;top:548.11px;font-size:20px;line-height:20px;font-weight:700;color:#1e2830;letter-spacing:0.35px;">Activity</div>
<svg style="left:0;top:0" width="1366" height="987" viewBox="0 0 1366 987"><line x1="364.8" y1="640.00" x2="943.7" y2="640.00" stroke="#d6dde7" stroke-width="1.35" stroke-dasharray="5 5"/><line x1="364.8" y1="692.00" x2="943.7" y2="692.00" stroke="#d6dde7" stroke-width="1.35" stroke-dasharray="5 5"/><line x1="364.8" y1="744.00" x2="943.7" y2="744.00" stroke="#d6dde7" stroke-width="1.35" stroke-dasharray="5 5"/><line x1="364.8" y1="796.00" x2="943.7" y2="796.00" stroke="#d6dde7" stroke-width="1.35" stroke-dasharray="5 5"/><line x1="364.8" y1="848.00" x2="943.7" y2="848.00" stroke="#d6dde7" stroke-width="1.35" stroke-dasharray="5 5"/><line x1="364.8" y1="900.00" x2="943.7" y2="900.00" stroke="#d6dde7" stroke-width="1.35" stroke-dasharray="5 5"/><path d="M400.94 899.3V695.00C400.94 693.00 402.94 691.80 405.94 691.80C408.94 691.80 410.94 693.00 410.94 695.00V899.3Z" fill="#1b00ff"/><path d="M413.04 899.3V747.00C413.04 745.00 415.04 743.80 418.04 743.80C421.04 743.80 423.04 745.00 423.04 747.00V899.3Z" fill="#f56767"/><path d="M497.43 899.3V757.40C497.43 755.40 499.43 754.20 502.43 754.20C505.43 754.20 507.43 755.40 507.43 757.40V899.3Z" fill="#1b00ff"/><path d="M509.53 899.3V799.00C509.53 797.00 511.53 795.80 514.53 795.80C517.53 795.80 519.53 797.00 519.53 799.00V899.3Z" fill="#f56767"/><path d="M593.91 899.3V658.60C593.91 656.60 595.91 655.40 598.91 655.40C601.91 655.40 603.91 656.60 603.91 658.60V899.3Z" fill="#1b00ff"/><path d="M606.01 899.3V710.60C606.01 708.60 608.01 707.40 611.01 707.40C614.01 707.40 616.01 708.60 616.01 710.60V899.3Z" fill="#f56767"/><path d="M690.39 899.3V788.60C690.39 786.60 692.39 785.40 695.39 785.40C698.39 785.40 700.39 786.60 700.39 788.60V899.3Z" fill="#1b00ff"/><path d="M702.49 899.3V851.00C702.49 849.00 704.49 847.80 707.49 847.80C710.49 847.80 712.49 849.00 712.49 851.00V899.3Z" fill="#f56767"/><path d="M786.88 899.3V726.20C786.88 724.20 788.88 723.00 791.88 723.00C794.88 723.00 796.88 724.20 796.88 726.20V899.3Z" fill="#1b00ff"/><path d="M798.98 899.3V757.40C798.98 755.40 800.98 754.20 803.98 754.20C806.98 754.20 808.98 755.40 808.98 757.40V899.3Z" fill="#f56767"/><path d="M883.36 899.3V773.00C883.36 771.00 885.36 769.80 888.36 769.80C891.36 769.80 893.36 771.00 893.36 773.00V899.3Z" fill="#1b00ff"/><path d="M895.46 899.3V845.80C895.46 843.80 897.46 842.60 900.46 842.60C903.46 842.60 905.46 843.80 905.46 845.80V899.3Z" fill="#f56767"/><line x1="364.8" y1="900.3" x2="944.3000000000001" y2="900.3" stroke="#8ea2b3" stroke-width="1.1"/><line x1="364.80" y1="900.8" x2="364.80" y2="906.6" stroke="#dcdfe3" stroke-width="1.1"/><line x1="461.28" y1="900.8" x2="461.28" y2="906.6" stroke="#dcdfe3" stroke-width="1.1"/><line x1="557.77" y1="900.8" x2="557.77" y2="906.6" stroke="#dcdfe3" stroke-width="1.1"/><line x1="654.25" y1="900.8" x2="654.25" y2="906.6" stroke="#dcdfe3" stroke-width="1.1"/><line x1="750.73" y1="900.8" x2="750.73" y2="906.6" stroke="#dcdfe3" stroke-width="1.1"/><line x1="847.22" y1="900.8" x2="847.22" y2="906.6" stroke="#dcdfe3" stroke-width="1.1"/><line x1="943.70" y1="900.8" x2="943.70" y2="906.6" stroke="#dcdfe3" stroke-width="1.1"/><circle cx="758" cy="600.9" r="5.1" fill="#1b00ff"/><circle cx="863.1" cy="600.9" r="5.1" fill="#f56767"/></svg>
<div class="t" style="left:766px;top:593.11px;font-size:16px;line-height:16px;font-weight:400;color:#373d3f;letter-spacing:-0.05px;">In Progress</div>
<div class="t" style="left:870.8px;top:593.11px;font-size:16px;line-height:16px;font-weight:400;color:#373d3f;letter-spacing:0px;">Complete</div>
<div class="t" style="right:1010.9px;top:628.11px;font-size:16px;line-height:16px;font-weight:400;color:#373d3f;letter-spacing:0px;">50</div>
<div class="t" style="right:1010.9px;top:680.11px;font-size:16px;line-height:16px;font-weight:400;color:#373d3f;letter-spacing:0px;">40</div>
<div class="t" style="right:1010.9px;top:732.11px;font-size:16px;line-height:16px;font-weight:400;color:#373d3f;letter-spacing:0px;">30</div>
<div class="t" style="right:1010.9px;top:784.11px;font-size:16px;line-height:16px;font-weight:400;color:#373d3f;letter-spacing:0px;">20</div>
<div class="t" style="right:1010.9px;top:836.11px;font-size:16px;line-height:16px;font-weight:400;color:#373d3f;letter-spacing:0px;">10</div>
<div class="t" style="right:1010.9px;top:888.11px;font-size:16px;line-height:16px;font-weight:400;color:#373d3f;letter-spacing:0px;">0</div>
<div class="t" style="left:113.14166666666671px;width:600px;text-align:center;top:911.11px;font-size:16px;line-height:16px;font-weight:400;color:#373d3f;letter-spacing:0px;">Jan</div>
<div class="t" style="left:209.62500000000006px;width:600px;text-align:center;top:911.11px;font-size:16px;line-height:16px;font-weight:400;color:#373d3f;letter-spacing:0px;">Feb</div>
<div class="t" style="left:306.10833333333346px;width:600px;text-align:center;top:911.11px;font-size:16px;line-height:16px;font-weight:400;color:#373d3f;letter-spacing:0px;">Mar</div>
<div class="t" style="left:402.5916666666668px;width:600px;text-align:center;top:911.11px;font-size:16px;line-height:16px;font-weight:400;color:#373d3f;letter-spacing:0px;">Apr</div>
<div class="t" style="left:499.07500000000016px;width:600px;text-align:center;top:911.11px;font-size:16px;line-height:16px;font-weight:400;color:#373d3f;letter-spacing:0px;">May</div>
<div class="t" style="left:595.5583333333335px;width:600px;text-align:center;top:911.11px;font-size:16px;line-height:16px;font-weight:400;color:#373d3f;letter-spacing:0px;">Jun</div>
<div class="card" style="left:1004px;top:525px;width:322px;height:437px"></div>
<div class="t" style="left:1024px;top:548.11px;font-size:20px;line-height:20px;font-weight:700;color:#1e2830;letter-spacing:0.35px;">Lead Target</div>
<svg style="left:0;top:0" width="1366" height="987" viewBox="0 0 1366 987" fill="none">
<path d="M1096.50 823.50A98.0 98.0 0 1 1 1235.10 823.50" stroke="#f3f3f3" stroke-width="33.0"/>
<path d="M1096.50 823.50A98.0 98.0 0 1 1 1252.41 708.34" stroke="#0b132b" stroke-width="33.0" stroke-dasharray="4 4"/>
</svg>
<div class="t" style="left:865.8px;width:600px;text-align:center;top:828.11px;font-size:22px;line-height:22px;font-weight:400;color:#373d3f;letter-spacing:0px;">73%</div>
<div class="t" style="left:865.8px;width:600px;text-align:center;top:861.11px;font-size:16px;line-height:16px;font-weight:400;color:#1e2830;letter-spacing:0px;">Achieve Goals</div>
</body>
</html>
